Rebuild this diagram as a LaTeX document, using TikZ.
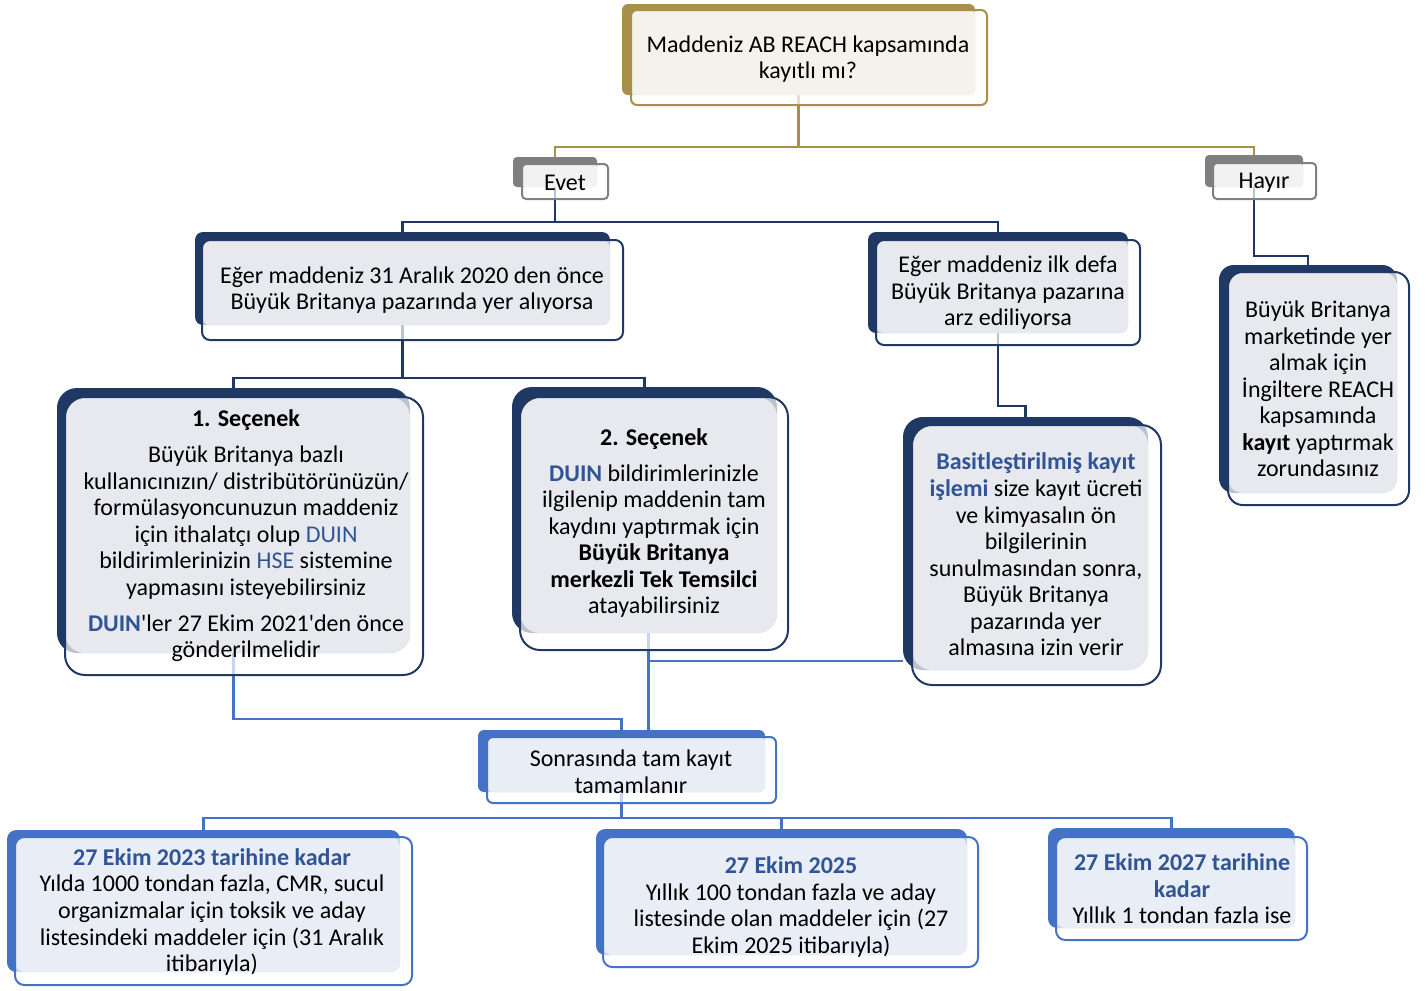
\documentclass[tikz,border=0pt]{standalone}
\usepackage{fontspec}
\setmainfont{Carlito}[Ligatures=TeXOff]
\usetikzlibrary{fit,calc,backgrounds}
\definecolor{goldD}{HTML}{A8904A}
\definecolor{goldL}{HTML}{F4F2EB}
\definecolor{goldO}{HTML}{A8904A}
\definecolor{greyD}{HTML}{7F7F7F}
\definecolor{greyL}{HTML}{F2F2F2}
\definecolor{greyO}{HTML}{808080}
\definecolor{navyD}{HTML}{203864}
\definecolor{navyL}{HTML}{E8E9EE}
\definecolor{navyO}{HTML}{203864}
\definecolor{blueD}{HTML}{4472C4}
\definecolor{blueL}{HTML}{E9EDF6}
\definecolor{blueO}{HTML}{4472C4}
\definecolor{btext}{HTML}{2F5597}
\newcommand\ubox[7]{%
  \node[fit={#4 #5}, inner sep=0pt, fill=#2D, rounded corners=#3] (#1) {};
  \fill[white, fill opacity=.7, rounded corners=#3] #6 rectangle #7;
  \fill[#2L, rounded corners=#3] #6 rectangle #5;
  \draw[#2O, line width=1.5pt, rounded corners=#3] #6 rectangle #7;
}
\newcommand\bt[1]{\textcolor{btext}{\textbf{#1}}}
\newcommand\blt[1]{\textcolor{btext}{#1}}
\begin{document}
\begin{tikzpicture}[x=0.75pt,y=-0.75pt,
  txt/.style={font=\fontsize{18}{19.9}\selectfont, align=center, inner sep=0pt, text=black},
  gc/.style={draw=goldD, line width=1.6pt},
  nc/.style={draw=navyD, line width=1.8pt},
  bc/.style={draw=blueD, line width=1.8pt}]
\useasboundingbox (0,0) rectangle (1426,990);

% ---------- boxes (dark back shapes are the named nodes) ----------
\ubox{q}{gold}{4.5pt}{(622,4)}{(975,95)}{(631,10)}{(987,105)}
\ubox{evet}{grey}{3pt}{(513,157)}{(597,187)}{(522,164)}{(608,199)}
\ubox{hayir}{grey}{3pt}{(1205,155)}{(1303,187)}{(1213,163)}{(1316,199)}
\ubox{A}{navy}{6pt}{(195,232)}{(610,325)}{(202,240)}{(623,340)}
\ubox{B}{navy}{6pt}{(868,232)}{(1128,333)}{(876,240)}{(1140,345)}
\ubox{H}{navy}{11pt}{(1219,265)}{(1397,493)}{(1228,272)}{(1409,505)}
\ubox{o1}{navy}{15pt}{(57,388)}{(410,653)}{(65,397)}{(423,675)}
\ubox{o2}{navy}{15pt}{(512,387)}{(777,633)}{(520,397)}{(788,650)}
\ubox{C}{navy}{15pt}{(903,417)}{(1148,670)}{(912,425)}{(1161,685)}
\ubox{S}{blue}{4.5pt}{(478,730)}{(765,792)}{(487,737)}{(776,803)}
\ubox{b1}{blue}{7pt}{(7,830)}{(400,972)}{(15,837)}{(412,985)}
\ubox{b2}{blue}{7pt}{(596,829)}{(967,955)}{(603,837)}{(978,967)}
\ubox{b3}{blue}{7pt}{(1048,828)}{(1295,928)}{(1056,837)}{(1307,940)}

% ---------- connectors (behind the boxes) ----------
\coordinate (gy) at (0,147);
\coordinate (ny1) at (0,222);
\coordinate (ny2) at (0,378);
\coordinate (bj) at (0,661);
\coordinate (by) at (0,818);
\coordinate (o2b) at ($(o2.south)+(4,0)$);
\begin{scope}[on background layer]
\draw[gc] (q.center) -- (q.center |- gy) -| (evet.north);
\draw[gc] (q.center |- gy) -| (hayir.north);
\draw[nc] (evet.center) -- (evet.center |- ny1) -| (A.north);
\draw[nc] (evet.center |- ny1) -| (B.north);
\draw[nc] (hayir.center) |- ($(H.north)+(0,-9)$) -- (H.north);
\draw[nc] (A.center) -- (A.center |- ny2) -| (o1.north);
\draw[nc] (A.center |- ny2) -| (o2.north);
\draw[nc] (B.center) |- ($(C.north)+(0,-11)$) -- (C.north);
\draw[bc] (o1.center) |- ($(S.north)+(0,-11)$) -- (S.north);
\draw[bc] (o2b) -- (o2b |- S.north);
\draw[bc] (C.west |- bj) -- (o2b |- bj);
\draw[bc] (S.center) -- (S.center |- by) -| (b1.north);
\draw[bc] (S.center |- by) -| (b2.north);
\draw[bc] (S.center |- by) -| (b3.north);
\end{scope}

% ---------- texts ----------
\node[txt] (tq) at (808,59) {Maddeniz AB REACH kapsamında\\kayıtlı mı?};
\node[txt] (tevet) at (565,182.5) {Evet};
\node[txt] (thayir) at (1264,183) {Hayır};
\node[txt] (tA) at (412,290) {Eğer maddeniz 31 Aralık 2020 den önce\\Büyük Britanya pazarında yer alıyorsa};
\node[txt] (tB) at (1008,293) {Eğer maddeniz ilk defa\\Büyük Britanya pazarına\\arz ediliyorsa};
\node[txt] (tH) at (1318,389) {Büyük Britanya\\marketinde yer\\almak için\\İngiltere REACH\\kapsamında\\\textbf{kayıt} yaptırmak\\zorundasınız};
\node[txt] (to1) at (246,536) {\textbf{1. Seçenek}\\[7pt]Büyük Britanya bazlı\\kullanıcınızın/ distribütörünüzün/\\formülasyoncunuzun maddeniz\\için ithalatçı olup \blt{DUIN}\\bildirimlerinizin \blt{HSE} sistemine\\yapmasını isteyebilirsiniz\\[7pt]\bt{DUIN}'ler 27 Ekim 2021'den önce\\gönderilmelidir};
\node[txt] (to2) at (654,523) {\textbf{2. Seçenek}\\[7pt]\bt{DUIN} bildirimlerinizle\\ilgilenip maddenin tam\\kaydını yaptırmak için\\\textbf{Büyük Britanya}\\\textbf{merkezli Tek Temsilci}\\atayabilirsiniz};
\node[txt] (tC) at (1036,554.5) {\bt{Basitleştirilmiş kayıt}\\\bt{işlemi} size kayıt ücreti\\ve kimyasalın ön\\bilgilerinin\\sunulmasından sonra,\\Büyük Britanya\\pazarında yer\\almasına izin verir};
\node[txt] (tS) at (631,771.5) {Sonrasında tam kayıt\\tamamlanır};
\node[txt] (tb1) at (212,912) {\bt{27 Ekim 2023 tarihine kadar}\\Yılda 1000 tondan fazla, CMR, sucul\\organizmalar için toksik ve aday\\listesindeki maddeler için (31 Aralık\\itibarıyla)};
\node[txt] (tb2) at (791,907) {\bt{27 Ekim 2025}\\Yıllık 100 tondan fazla ve aday\\listesinde olan maddeler için (27\\Ekim 2025 itibarıyla)};
\node[txt] (tb3) at (1182,889) {\bt{27 Ekim 2027 tarihine}\\\bt{kadar}\\Yıllık 1 tondan fazla ise};
\end{tikzpicture}
\end{document}
